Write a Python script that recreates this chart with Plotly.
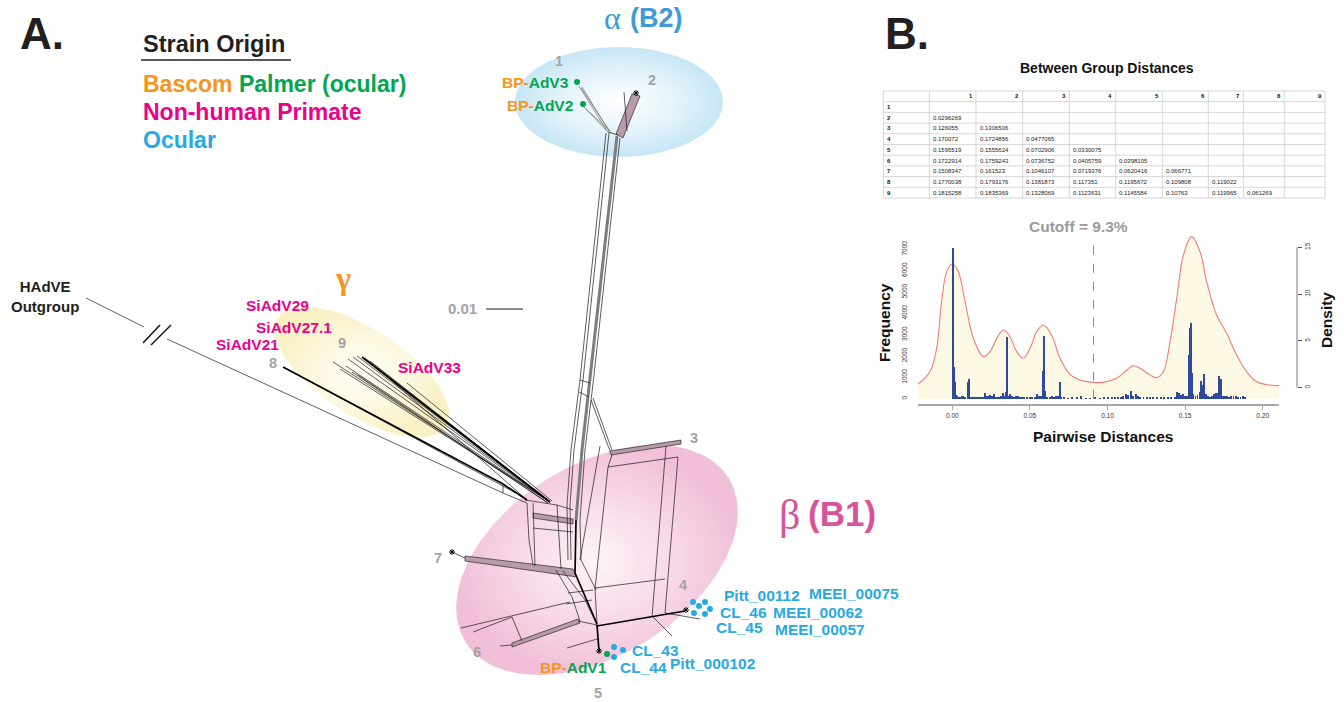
import numpy as np
import plotly.graph_objects as go

FONT = "Liberation Sans, Arial, Helvetica, sans-serif"
SERIF = "Liberation Serif, DejaVu Serif, serif"
ORANGE, GREEN, MAGENTA, BLUE = "#F7941D", "#00A651", "#EC008C", "#27AAE1"
GRAYTXT = "#A3A3A3"

# ================= Panel B data =================
group_ids = ["1", "2", "3", "4", "5", "6", "7", "8", "9"]
dist_row2 = ["0.0296269"]
dist_row3 = ["0.126055", "0.1306506"]
dist_row4 = ["0.170072", "0.1724856", "0.0477065"]
dist_row5 = ["0.1595519", "0.1555624", "0.0702906", "0.0330075"]
dist_row6 = ["0.1722914", "0.1759243", "0.0736752", "0.0405759", "0.0398105"]
dist_row7 = ["0.1508347", "0.161523", "0.1046107", "0.0719376", "0.0620416", "0.066771"]
dist_row8 = ["0.1770038", "0.1793176", "0.1381873", "0.117351", "0.1195672", "0.109808", "0.119022"]
dist_row9 = ["0.1815258", "0.1835369", "0.1328069", "0.1123631", "0.1145584", "0.10763", "0.119965", "0.061269"]
dist_lower = [[], dist_row2, dist_row3, dist_row4, dist_row5, dist_row6, dist_row7, dist_row8, dist_row9]

hist_x = [0.0000, 0.0006, 0.0012, 0.0018, 0.0024, 0.0030, 0.0040, 0.0052, 0.0060, 0.0070, 0.0080,
          0.0097, 0.0103, 0.0112, 0.0125, 0.0135, 0.0150, 0.0162, 0.0175, 0.0190, 0.0200, 0.0210,
          0.0220, 0.0232, 0.0243, 0.0255, 0.0265, 0.0275, 0.0285, 0.0300, 0.0312, 0.0322, 0.0333,
          0.0343, 0.0350, 0.0357, 0.0370, 0.0385, 0.0398, 0.0410, 0.0420, 0.0432, 0.0445, 0.0460,
          0.0480, 0.0498, 0.0512, 0.0530, 0.0545, 0.0556, 0.0570, 0.0585, 0.0591, 0.0597, 0.0610,
          0.0625, 0.0640, 0.0655, 0.0668, 0.0680, 0.0690, 0.0700, 0.0720, 0.0745, 0.0770, 0.0800,
          0.0830, 0.0860, 0.0885, 0.0920, 0.0950, 0.0975, 0.1000, 0.1025, 0.1045, 0.1065, 0.1085,
          0.1100, 0.1115, 0.1130, 0.1150, 0.1165, 0.1180, 0.1195, 0.1210, 0.1230, 0.1250, 0.1270,
          0.1290, 0.1315, 0.1340, 0.1365, 0.1390, 0.1410, 0.1430, 0.1448, 0.1460, 0.1472, 0.1485,
          0.1500, 0.1512, 0.1521, 0.1527, 0.1534, 0.1541, 0.1552, 0.1565, 0.1578, 0.1592, 0.1602,
          0.1611, 0.1622, 0.1633, 0.1645, 0.1660, 0.1672, 0.1685, 0.1695, 0.1705, 0.1715, 0.1731,
          0.1742, 0.1755, 0.1768, 0.1780, 0.1795, 0.1810, 0.1825, 0.1840, 0.1855, 0.1870, 0.1885]
hist_freq = [7050, 1500, 1030, 800, 170, 120, 60, 90, 120, 110, 60,
             800, 900, 60, 70, 90, 60, 40, 50, 60, 80, 260,
             140, 110, 160, 150, 200, 90, 100, 60, 110, 250, 120,
             320, 2870, 130, 200, 130, 80, 110, 130, 80, 40, 60,
             60, 70, 50, 70, 200, 110, 120, 1300, 2950, 370, 90,
             60, 110, 80, 120, 150, 790, 60, 40, 30, 40, 40,
             130, 30, 30, 40, 30, 50, 40, 50, 70, 90, 60,
             150, 220, 180, 380, 150, 200, 120, 100, 90, 70, 60,
             40, 50, 40, 50, 60, 80, 70, 300, 250, 180, 220,
             150, 130, 2050, 3330, 3560, 1220, 200, 150, 180, 300, 850,
             640, 1160, 200, 120, 100, 150, 200, 280, 250, 1060, 910,
             120, 130, 110, 100, 110, 120, 130, 90, 80, 120, 100]

dens_x = [-0.0223, -0.0144, -0.0101, -0.0069, -0.0036, 0.0000, 0.0039, 0.0082, 0.0136, 0.0200,
          0.0243, 0.0286, 0.0329, 0.0372, 0.0415, 0.0458, 0.0501, 0.0544, 0.0587, 0.0640,
          0.0694, 0.0758, 0.0823, 0.0909, 0.0973, 0.1059, 0.1124, 0.1166, 0.1209, 0.1274,
          0.1317, 0.1360, 0.1403, 0.1446, 0.1489, 0.1542, 0.1596, 0.1639, 0.1703, 0.1768,
          0.1832, 0.1897, 0.1961, 0.2047, 0.2107]
dens_y = [0.36, 1.71, 4.21, 9.19, 12.40, 13.22, 12.40, 9.19, 5.27, 3.32,
          3.85, 5.27, 6.16, 5.45, 3.85, 3.14, 4.21, 5.99, 6.70, 5.63,
          3.14, 1.43, 0.82, 0.57, 0.57, 1.00, 1.89, 2.35, 2.07, 1.36,
          1.07, 1.71, 4.92, 9.55, 14.18, 16.14, 14.53, 11.33, 7.77, 5.81,
          3.49, 1.71, 0.64, 0.29, 0.22]
cutoff_x = 0.091
freq_ticks = [0, 1000, 2000, 3000, 4000, 5000, 6000, 7000]
dens_ticks = [0, 5, 10, 15]
dist_ticks = [0.00, 0.05, 0.10, 0.15, 0.20]

# ================= Panel A data (network drawing, figure units) =================
split_ids = ["1", "2", "3", "4", "5", "6", "7", "8", "9"]
split_x = [559, 652, 694, 683, 598, 477, 438, 273, 342]
split_y = [61, 80, 438, 585, 693, 652, 558, 363, 343]

ocular_names = ["Pitt_00112", "MEEI_00075", "CL_46", "MEEI_00062", "CL_45", "MEEI_00057",
                "CL_43", "CL_44", "Pitt_000102"]
ocular_x = [722, 807, 718, 771, 714, 773, 630, 618, 668]
ocular_y = [595, 593, 612, 612, 627, 629, 650, 667, 663]
nhp_names = ["SiAdV29", "SiAdV27.1", "SiAdV21", "SiAdV33"]
nhp_x = [277, 294, 247, 429]
nhp_y = [305, 327, 344, 367]
bp_names = ["AdV3", "AdV2", "AdV1"]
bp_x = [571, 575, 609]
bp_y = [82, 105, 667]

blue_dot_x = [693, 699, 705, 705, 710, 694, 614, 623, 614]
blue_dot_y = [602, 606, 602, 614, 609, 613, 647, 650, 657]
green_dot_x = [577, 583, 607]
green_dot_y = [82, 104, 654]

thin_edges = [
    [(606, 133), (580, 380), (571, 450), (567, 505), (568, 560)],
    [(609, 133), (583, 380), (574, 450), (570, 505), (571, 560)],
    [(620, 138), (593, 384), (585, 450), (580, 520), (581, 560), (596, 590)],
    [(580, 380), (590, 383)], [(579, 392), (589, 397)],
    [(591, 400), (610, 451)], [(593, 398), (612, 450)],
    [(600, 446), (580, 560)], [(608, 132), (618, 135)], [(624, 92), (627, 131)],
    [(608, 467), (678, 457)], [(612, 455), (608, 467)],
    [(666, 446), (652, 617)], [(678, 457), (665, 613)],
    [(608, 467), (595, 589), (597, 625)], [(595, 588), (665, 579)],
    [(653, 617), (672, 636)], [(665, 613), (700, 619)],
    [(503, 484), (503, 493)], [(525, 500), (557, 505), (573, 510)],
    [(533, 503), (535, 566)], [(557, 505), (561, 569)], [(533, 528), (573, 532)],
    [(527, 503), (529, 540), (533, 565)],
    [(556, 570), (572, 597), (580, 621)], [(563, 571), (585, 600), (597, 625)],
    [(568, 593), (593, 590)], [(566, 604), (592, 600)],
    [(461, 628), (570, 602)], [(473, 632), (512, 617)], [(512, 617), (522, 641)],
    [(567, 648), (597, 639)], [(500, 646), (512, 645)], [(578, 621), (597, 625)],
    [(452, 552), (465, 558)],
    [(86, 298), (144, 327)], [(167, 339), (503, 493), (527, 503)],
    [(287, 369), (525, 498)],
    [(333, 362), (550, 502)], [(348, 359), (550, 502)], [(353, 357), (550, 502)],
    [(357, 356), (550, 502)], [(365, 358), (550, 502)], [(370, 361), (550, 502)],
    [(340, 369), (550, 502)], [(346, 366), (550, 502)], [(352, 372), (548, 503)],
    [(358, 375), (548, 503)], [(407, 383), (552, 501)], [(375, 366), (527, 500)],
]
thick_edges = [
    [(283, 367), (503, 484), (527, 500)],
    [(362, 357), (550, 502)],
    [(576, 520), (575, 573), (597, 624)],
    [(597, 625), (599, 651)],
    [(597, 626), (685, 611)],
]
gray_edges = [[(617, 136), (590, 383), (582, 450), (576, 520)]]
bp_edges = [[(579, 86), (607, 131)], [(582, 87), (609, 131)], [(581, 88), (611, 133)],
            [(584, 107), (608, 132)], [(586, 109), (610, 131)]]
band_polys = [
    [(616, 134), (632, 94), (640, 96), (623, 138)],
    [(465, 556), (573, 569), (577, 577), (465, 561)],
    [(512, 643), (578, 619), (580, 623), (512, 647)],
    [(610, 451), (681, 440), (681, 444), (611, 455)],
    [(533, 513), (573, 519), (573, 524), (533, 518)],
]
tip_x = [452, 686, 599, 636]
tip_y = [552, 610, 651, 93]


def poly_xy(polys, close=False):
    xs, ys = [], []
    for p in polys:
        pts = list(p) + ([p[0]] if close else [])
        xs += [q[0] for q in pts] + [None]
        ys += [q[1] for q in pts] + [None]
    return xs, ys


def ellipse(cx, cy, a, b, ang):
    t = np.linspace(0, 2 * np.pi, 200)
    th = np.deg2rad(ang)
    x = cx + a * np.cos(t) * np.cos(th) - b * np.sin(t) * np.sin(th)
    y = cy + a * np.cos(t) * np.sin(th) + b * np.sin(t) * np.cos(th)
    return x, y


fig = go.Figure()

# ---- shaded group ellipses ----
for (cx, cy, a, b, ang, cs) in [
    (619, 102, 104, 55, 0, [[0, "#FFFFFF"], [0.6, "#E2F2FA"], [1, "#C6E6F5"]]),
    (362, 372, 100, 43, 33, [[0, "#FFFEF8"], [0.6, "#FCF7DC"], [1, "#F9F0C4"]]),
    (597, 560, 155, 95, -32, [[0, "#FDF4F8"], [0.6, "#F7D6E6"], [1, "#F1C0D8"]]),
]:
    ex, ey = ellipse(cx, cy, a, b, ang)
    fig.add_trace(go.Scatter(x=ex, y=ey, mode="lines", line=dict(width=0), fill="toself",
                             fillgradient=dict(type="radial", colorscale=cs),
                             hoverinfo="skip", xaxis="x", yaxis="y"))

# ---- network ----
bx, by = poly_xy(band_polys, close=True)
fig.add_trace(go.Scatter(x=bx, y=by, mode="lines", fill="toself", fillcolor="#B79BA9",
                         line=dict(color="#111111", width=0.6), hoverinfo="skip"))
gx, gy = poly_xy(bp_edges)
fig.add_trace(go.Scatter(x=gx, y=gy, mode="lines", line=dict(color="#7A7A7A", width=0.8), hoverinfo="skip"))
gx, gy = poly_xy(gray_edges)
fig.add_trace(go.Scatter(x=gx, y=gy, mode="lines", line=dict(color="#7D7D7D", width=3), hoverinfo="skip"))
tx, ty = poly_xy(thin_edges)
fig.add_trace(go.Scatter(x=tx, y=ty, mode="lines", line=dict(color="#1A1A1A", width=0.7), hoverinfo="skip"))
kx, ky = poly_xy(thick_edges)
fig.add_trace(go.Scatter(x=kx, y=ky, mode="lines", line=dict(color="#000000", width=1.7), hoverinfo="skip"))
fig.add_trace(go.Scatter(x=tip_x, y=tip_y, mode="markers",
                         marker=dict(symbol="asterisk-open", size=5, color="black", line=dict(width=1)),
                         hoverinfo="skip"))
fig.add_trace(go.Scatter(x=blue_dot_x, y=blue_dot_y, mode="markers",
                         marker=dict(size=6, color=BLUE), hoverinfo="skip"))
fig.add_trace(go.Scatter(x=green_dot_x, y=green_dot_y, mode="markers",
                         marker=dict(size=6, color=GREEN), hoverinfo="skip"))

# ---- histogram / density (panel B) ----
D_LO, D_HI = -1.741, 16.635
F_LO, F_HI = -248.3, 7810.0
base = D_LO + (0 - F_LO) * (D_HI - D_LO) / (F_HI - F_LO)
fig.add_trace(go.Scatter(x=[dens_x[0], dens_x[-1]], y=[base, base], mode="lines",
                         line=dict(width=0, color="#FDF9E6"), xaxis="x2", yaxis="y2", hoverinfo="skip"))
fig.add_trace(go.Scatter(x=dens_x, y=dens_y, mode="lines", line=dict(color="#F07C7C", width=1.1, shape="spline"),
                         fill="tonexty", fillcolor="#FDF9E4", xaxis="x2", yaxis="y2", hoverinfo="skip"))
fig.add_trace(go.Bar(x=hist_x, y=hist_freq, width=0.00062, marker=dict(color="#2E4A9E", line=dict(width=0)),
                     xaxis="x2", yaxis="y3", hoverinfo="skip"))

annotations = []


def txt(x, y, s, size, color, xanchor="center", yanchor="middle", angle=0, family=FONT):
    annotations.append(dict(x=x, y=y, xref="x", yref="y", text=s, showarrow=False,
                            font=dict(family=family, size=size, color=color),
                            xanchor=xanchor, yanchor=yanchor, textangle=angle))


# Panel A text
txt(18, 33, "<b>A.</b>", 44, "#231F20", xanchor="left")
txt(883, 33, "<b>B.</b>", 44, "#231F20", xanchor="left")
txt(141, 44, "<b>Strain Origin</b>", 23.5, "#231F20", xanchor="left")
txt(141, 84, f"<b><span style='color:{ORANGE}'>Bascom</span> <span style='color:{GREEN}'>Palmer (ocular)</span></b>",
    23, ORANGE, xanchor="left")
txt(141, 112, "<b>Non-human Primate</b>", 23, MAGENTA, xanchor="left")
txt(141, 140, "<b>Ocular</b>", 23, BLUE, xanchor="left")
txt(612, 18, "α", 32, "#3F9AD5", family=SERIF)
txt(628, 18, "<b>(B2)</b>", 27, "#3F9AD5", xanchor="left")
txt(789, 515, "β", 42, "#D6559A", family=SERIF)
txt(806, 513, "<b>(B1)</b>", 35, "#D6559A", xanchor="left")
txt(343, 278, "<b>γ</b>", 32, ORANGE, family=SERIF)
txt(45, 296, "<b>HAdVE<br>Outgroup</b>", 15, "#231F20")
txt(462, 308, "<b>0.01</b>", 15, GRAYTXT)
for s, x, y in zip(split_ids, split_x, split_y):
    txt(x, y, f"<b>{s}</b>", 14.5, GRAYTXT)
for s, x, y in zip(ocular_names, ocular_x, ocular_y):
    txt(x, y, f"<b>{s}</b>", 15.5, BLUE, xanchor="left")
for s, x, y in zip(nhp_names, nhp_x, nhp_y):
    txt(x, y, f"<b>{s}</b>", 15.5, MAGENTA)
for s, x, y in zip(bp_names, bp_x, bp_y):
    txt(x, y, f"<b><span style='color:{ORANGE}'>BP-</span><span style='color:{GREEN}'>{s}</span></b>",
        15.5, GREEN, xanchor="right")

shapes = [
    dict(type="line", xref="x", yref="y", x0=141, x1=291, y0=60, y1=60, line=dict(color="#231F20", width=1.6)),
    dict(type="line", xref="x", yref="y", x0=486, x1=523, y0=309, y1=309, line=dict(color="#8C8C8C", width=2)),
    # outgroup break marks
    dict(type="line", xref="x", yref="y", x0=143, x1=160, y0=343, y1=325, line=dict(color="#111", width=1.5)),
    dict(type="line", xref="x", yref="y", x0=151, x1=171, y0=345, y1=325, line=dict(color="#111", width=1.5)),
]

# Table
col_edges = [883.3, 929.3, 976, 1022.7, 1069.3, 1115.7, 1162.3, 1208.3, 1243.3, 1284.3, 1325]
row_top, row_h = 91.0, 10.7
n_rows = 10
for xe in col_edges:
    shapes.append(dict(type="line", xref="x", yref="y", x0=xe, x1=xe, y0=row_top, y1=row_top + n_rows * row_h,
                       line=dict(color="#BDBDBD", width=0.6)))
for r in range(n_rows + 1):
    yy = row_top + r * row_h
    shapes.append(dict(type="line", xref="x", yref="y", x0=col_edges[0], x1=col_edges[-1], y0=yy, y1=yy,
                       line=dict(color="#BDBDBD", width=0.6)))
for j, g in enumerate(group_ids):
    txt(col_edges[j + 2] - 1.5, row_top + row_h / 2, f"<b>{g}</b>", 6, "#111", xanchor="right")
for i, g in enumerate(group_ids):
    yc = row_top + (i + 1.5) * row_h
    txt(col_edges[0] + 1.5, yc, f"<b>{g}</b>", 6, "#111", xanchor="left")
    for j, v in enumerate(dist_lower[i]):
        txt(col_edges[j + 1] + 1.5, yc, v, 6, "#222", xanchor="left")
txt(1107, 68, "<b>Between Group Distances</b>", 14, "#111")

# histogram labels
txt(1078, 226, "<b>Cutoff = 9.3%</b>", 15.5, "#9A9A9A")
txt(884, 323, "<b>Frequency</b>", 15.5, "#111", angle=-90)
txt(1326, 320, "<b>Density</b>", 15.5, "#111", angle=-90)
txt(1103, 436, "<b>Pairwise Distances</b>", 15.5, "#111")
shapes.append(dict(type="line", xref="x2", yref="y3", x0=cutoff_x, x1=cutoff_x, y0=0, y1=7295,
                   line=dict(color="#8A8A8A", width=1, dash="dash")))
shapes.append(dict(type="line", xref="x", yref="y2", x0=1297, x1=1297, y0=0, y1=15,
                   line=dict(color="#555555", width=0.8)))

W, H = 1344, 702
fig.update_layout(
    width=W, height=H, margin=dict(l=0, r=0, t=0, b=0),
    paper_bgcolor="white", plot_bgcolor="rgba(0,0,0,0)", showlegend=False,
    bargap=0, annotations=annotations, shapes=shapes,
    xaxis=dict(domain=[0, 1], range=[0, W], visible=False, fixedrange=True),
    yaxis=dict(domain=[0, 1], range=[H, 0], visible=False, fixedrange=True),
    xaxis2=dict(domain=[917.7 / W, 1279.3 / W], range=[-0.0223, 0.2107], anchor="y2",
                tickvals=dist_ticks, ticktext=[f"{v:.2f}" for v in dist_ticks],
                tickfont=dict(size=6.5, color="#333", family=FONT), ticks="outside", ticklen=4,
                tickcolor="#A8A8A8", showline=True, linecolor="#A8A8A8", linewidth=2,
                showgrid=False, zeroline=False),
    yaxis2=dict(domain=[1 - 404 / H, 1 - 232 / H], range=[D_LO, D_HI], anchor="free",
                position=1297 / W, side="right", tickvals=dens_ticks, ticks="outside", ticklen=4,
                tickcolor="#555", tickangle=-90, tickfont=dict(size=6.5, color="#333", family=FONT),
                showgrid=False, zeroline=False, showline=False),
    yaxis3=dict(overlaying="y2", range=[F_LO, F_HI], anchor="x2", side="left",
                tickvals=freq_ticks, tickangle=-90, ticks="", ticklabelstandoff=8,
                tickfont=dict(size=6.5, color="#333", family=FONT),
                showgrid=False, zeroline=False, showline=False),
)

fig.write_html("out.html", config={"displayModeBar": False},
               post_script="document.body.style.margin='0px';document.body.style.overflow='hidden';")
